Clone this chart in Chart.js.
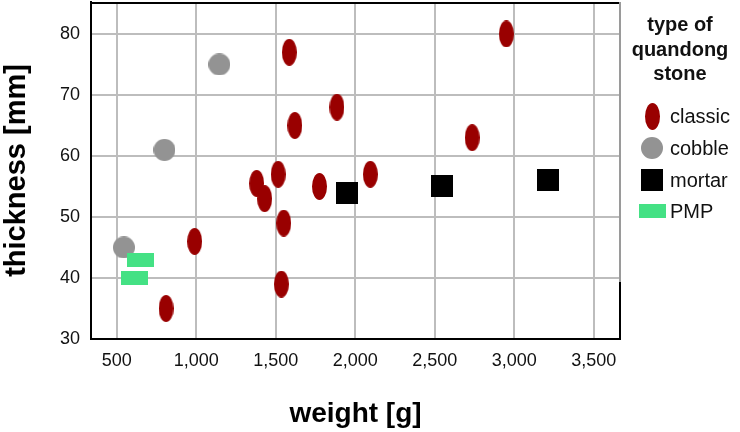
<!DOCTYPE html>
<html>
<head>
<meta charset="utf-8">
<script src="https://cdn.jsdelivr.net/npm/chart.js@4/dist/chart.umd.min.js"></script>
<style>
    html, body { margin: 0; padding: 0; background: #fff; }
    #wrap { position: relative; width: 740px; height: 432px; }
    #legend { position: absolute; left: 622px; top: 0; width: 116px; height: 260px;
              font-family: "Liberation Sans", Arial, sans-serif; color: #111; }
    #legend .title { position: absolute; left: 0; top: 12px; width: 116px; text-align: center;
                     font-weight: bold; font-size: 20px; line-height: 24.5px; }
    #legend .item { position: absolute; left: 0; height: 30px; width: 116px; }
    #legend .item canvas { position: absolute; left: 16px; top: 0; }
    #legend .item span { position: absolute; left: 48px; top: 3px; font-size: 20px; line-height: 24px; }
</style>
</head>
<body>
<div id="wrap">
    <canvas id="chart" width="740" height="432"></canvas>
    <div id="legend"></div>
</div>
<script>
'use strict';

// weight [g] / thickness [mm] per stone type
var classicWeight    = [810, 990, 1380, 1430, 1515, 1535, 1550, 1585, 1620, 1775, 1885, 2095, 2735, 2950];
var classicThickness = [35, 46, 55.5, 53, 57, 39, 49, 77, 65, 55, 68, 57, 63, 80];
var cobbleWeight     = [545, 800, 1145];
var cobbleThickness  = [45, 61, 75];
var mortarWeight     = [1945, 2545, 3215];
var mortarThickness  = [54, 55, 56];
var pmpWeight        = [610, 650];
var pmpThickness     = [40, 43];

var typeLabels = ['classic', 'cobble', 'mortar', 'PMP'];
var xTicks = [500, 1000, 1500, 2000, 2500, 3000, 3500];
var yTicks = [30, 40, 50, 60, 70, 80];

function toPoints(xs, ys) {
    return xs.map(function(x, i) { return { x: x, y: ys[i] }; });
}

function makeMarker(shape, w, h, color) {
    var c = document.createElement('canvas');
    c.width = w;
    c.height = h;
    var g = c.getContext('2d');
    g.fillStyle = color;
    if (shape === 'ellipse') {
        g.beginPath();
        g.ellipse(w / 2, h / 2, w / 2, h / 2, 0, 0, Math.PI * 2);
        g.fill();
    } else {
        g.fillRect(0, 0, w, h);
    }
    return c;
}

var markers = [
    makeMarker('ellipse', 15, 27, '#990000'),
    makeMarker('ellipse', 22, 22, '#939393'),
    makeMarker('rect', 22, 22, '#000000'),
    makeMarker('rect', 27, 14, '#44e184')
];

var series = [
    toPoints(classicWeight, classicThickness),
    toPoints(cobbleWeight, cobbleThickness),
    toPoints(mortarWeight, mortarThickness),
    toPoints(pmpWeight, pmpThickness)
];
var drawOrder = [0, 3, 1, 2];

var datasets = series.map(function(pts, i) {
    return {
        label: typeLabels[i],
        data: pts,
        order: drawOrder[i],
        pointStyle: markers[i],
        pointRadius: 12,
        pointHoverRadius: 12,
        backgroundColor: 'rgba(0,0,0,0)',
        borderColor: 'rgba(0,0,0,0)'
    };
});

var frame = {
    id: 'frame',
    afterDraw: function(chart) {
        var a = chart.chartArea;
        var ctx = chart.ctx;
        ctx.save();
        ctx.lineWidth = 2;
        ctx.strokeStyle = '#000';
        ctx.beginPath();
        ctx.moveTo(a.left, a.top + 1);
        ctx.lineTo(a.right, a.top + 1);
        ctx.stroke();
        ctx.strokeStyle = '#9a9a9a';
        ctx.beginPath();
        ctx.moveTo(a.right, a.top);
        ctx.lineTo(a.right, 282);
        ctx.stroke();
        ctx.strokeStyle = '#000';
        ctx.beginPath();
        ctx.moveTo(a.right, 282);
        ctx.lineTo(a.right, a.bottom);
        ctx.stroke();
        ctx.restore();
    }
};

var tickFont = { family: '"Liberation Sans", Arial, sans-serif', size: 18 };
var titleFont = { family: '"Liberation Sans", Arial, sans-serif', size: 28, weight: 'bold', lineHeight: 1 };

var chart = new Chart(document.getElementById('chart').getContext('2d'), {
    type: 'scatter',
    data: { datasets: datasets },
    options: {
        responsive: false,
        animation: false,
        devicePixelRatio: 1,
        layout: { autoPadding: false, padding: { left: 0, right: 120, top: 2, bottom: 0 } },
        plugins: {
            legend: { display: false },
            tooltip: { enabled: false }
        },
        scales: {
            x: {
                type: 'linear',
                min: 338,
                max: 3665,
                afterFit: function(s) { s.height = 93; s.paddingLeft = 0; s.paddingRight = 0; },
                afterBuildTicks: function(s) { s.ticks = xTicks.map(function(v) { return { value: v }; }); },
                grid: { color: '#bdbdbd', lineWidth: 2, drawTicks: false },
                border: { color: '#000', width: 2 },
                ticks: {
                    padding: 11,
                    color: '#111',
                    font: tickFont,
                    callback: function(v) { return v.toLocaleString('en-US'); }
                },
                title: {
                    display: true,
                    text: 'weight [g]',
                    color: '#000',
                    font: titleFont,
                    padding: { top: 0, bottom: 4 }
                }
            },
            y: {
                min: 30,
                max: 85.24,
                afterFit: function(s) { s.width = 91; s.paddingTop = 0; s.paddingBottom = 0; },
                afterBuildTicks: function(s) { s.ticks = yTicks.map(function(v) { return { value: v }; }); },
                grid: { color: '#bdbdbd', lineWidth: 2, drawTicks: false },
                border: { color: '#000', width: 2 },
                ticks: { padding: 11, color: '#111', font: tickFont },
                title: {
                    display: true,
                    text: 'thickness [mm]',
                    color: '#000',
                    font: { family: titleFont.family, size: 29, weight: 'bold', lineHeight: 1 },
                    padding: { top: 2, bottom: 0 }
                }
            }
        }
    },
    plugins: [frame]
});

// html legend built from the datasets
var legend = document.getElementById('legend');
var head = document.createElement('div');
head.className = 'title';
head.innerHTML = 'type of<br>quandong<br>stone';
legend.appendChild(head);

var rowCenters = [116, 148, 180, 211];
chart.data.datasets.forEach(function(ds, i) {
    var row = document.createElement('div');
    row.className = 'item';
    row.style.top = (rowCenters[i] - 15) + 'px';
    var c = document.createElement('canvas');
    c.width = 28;
    c.height = 30;
    var m = ds.pointStyle;
    c.getContext('2d').drawImage(m, Math.round((28 - m.width) / 2), Math.round((30 - m.height) / 2));
    var label = document.createElement('span');
    label.textContent = ds.label;
    row.appendChild(c);
    row.appendChild(label);
    legend.appendChild(row);
});
</script>
</body>
</html>
